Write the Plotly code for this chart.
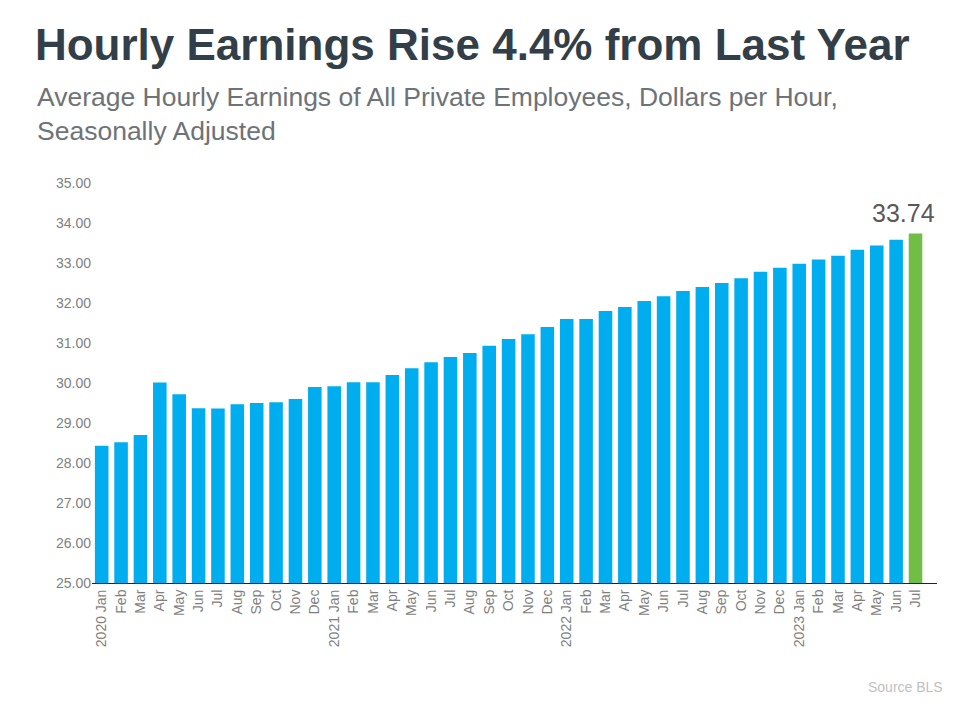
import plotly.graph_objects as go

months = ["Jan","Feb","Mar","Apr","May","Jun","Jul","Aug","Sep","Oct","Nov","Dec"]
labels = []
for y in [2020, 2021, 2022, 2023]:
    for i, m in enumerate(months):
        if y == 2023 and i > 6:
            break
        labels.append(f"{y} {m}" if m == "Jan" else m)
cats = [f"c{i}" for i in range(len(labels))]

values = [28.43, 28.52, 28.70, 30.01, 29.72, 29.37, 29.36, 29.47, 29.50, 29.52, 29.60, 29.90,
          29.92, 30.02, 30.02, 30.20, 30.37, 30.52, 30.65, 30.75, 30.93, 31.10, 31.22, 31.40,
          31.60, 31.60, 31.80, 31.90, 32.05, 32.17, 32.30, 32.40, 32.50, 32.62, 32.78, 32.88,
          32.98, 33.09, 33.18, 33.33, 33.44, 33.58, 33.74]
colors = ["#00AEEF"] * (len(values) - 1) + ["#70BF44"]

fig = go.Figure(go.Bar(x=cats, y=values, marker_color=colors, marker_line_width=0))
fig.update_layout(
    width=963, height=707, paper_bgcolor="white", plot_bgcolor="white",
    font=dict(family="Liberation Sans, Arial, sans-serif"),
    margin=dict(l=84, r=34, t=175, b=132, autoexpand=False),
    bargap=0.3, showlegend=False,
    title=dict(text="<b>Hourly Earnings Rise 4.4% from Last Year</b>", x=0.028, xanchor="left",
               y=0.948, yanchor="middle", font=dict(size=44, color="#333F48")),
    annotations=[
        dict(text="Average Hourly Earnings of All Private Employees, Dollars per Hour,<br>Seasonally Adjusted",
             xref="paper", yref="paper", x=-0.0675, y=1.2575, xanchor="left", yanchor="top",
             showarrow=False, align="left", font=dict(size=26.5, color="#6D7378")),
        dict(text="Source BLS", xref="paper", yref="paper", x=1.009, y=-0.26, xanchor="right",
             yanchor="middle", showarrow=False, font=dict(size=14, color="#BFBFBF")),
        dict(text=f"{values[-1]:.2f}", x=cats[-1], y=values[-1], xanchor="center", yanchor="bottom",
             xshift=-12, yshift=4, showarrow=False, font=dict(size=25, color="#595959")),
    ],
)
fig.update_yaxes(range=[25, 35], dtick=1, tickformat=".2f", showgrid=False, zeroline=False,
                 tickfont=dict(size=14, color="#7F7F7F"), ticks="", automargin=False)
fig.update_xaxes(tickmode="array", tickvals=cats, ticktext=labels, tickangle=-90,
                 tickfont=dict(size=14, color="#7F7F7F"), showline=True,
                 linecolor="#222222", linewidth=1, ticks="", automargin=False)
fig.write_html("out.html")
